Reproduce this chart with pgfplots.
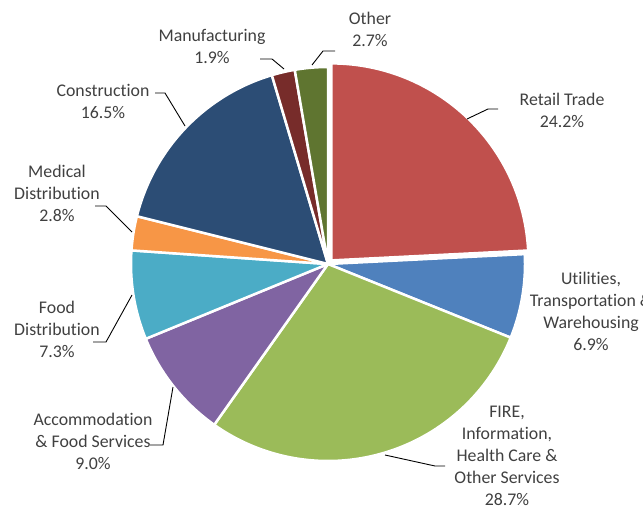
\documentclass[border=0pt]{standalone}
\usepackage{fontspec}
\setmainfont{Carlito}[Ligatures={NoCommon}]
\usepackage{pgfplots}
\pgfplotsset{compat=1.18}

\definecolor{retail}{HTML}{C0504D}
\definecolor{util}{HTML}{4F81BD}
\definecolor{fire}{HTML}{9BBB59}
\definecolor{accom}{HTML}{8064A2}
\definecolor{fooddist}{HTML}{4BACC6}
\definecolor{medical}{HTML}{F79646}
\definecolor{constr}{HTML}{2C4D75}
\definecolor{manuf}{HTML}{772C2A}
\definecolor{other}{HTML}{5F7530}
\definecolor{txt}{HTML}{404040}

% slice: centre x, centre y, cumulative start (%), share (%), colour
\newcommand\slice[5]{%
  \addplot[fill=#5, draw=white, line width=2.5bp, line join=round,
    domain={3.6*(#3)}:{3.6*(#3+#4)}, samples=90, variable=\t]
    ({#1+197*sin(\t)}, {#2-197*cos(\t)}) -- (axis cs:#1,#2) -- cycle;
}

\begin{document}
\begin{tikzpicture}[
    lbl/.style={font=\fontsize{17.8bp}{22bp}\selectfont, text=txt,
      align=center, inner sep=0pt},
    lead/.style={black, line width=0.9bp, mark=none},
  ]
\begin{axis}[
    hide axis, scale only axis,
    width=643bp, height=507bp,
    xmin=0, xmax=643, ymin=0, ymax=507,
    y dir=reverse, clip=false,
  ]
  % shares in percent, clockwise from the top
  \slice{331.4}{260.4}{0}{24.2}{retail}   % Retail Trade (pulled out)
  \slice{328}{264}{24.2}{6.9}{util}       % Utilities, Transportation & Warehousing
  \slice{328}{264}{31.1}{28.7}{fire}      % FIRE, Information, Health Care & Other
  \slice{328}{264}{59.8}{9.0}{accom}      % Accommodation & Food Services
  \slice{328}{264}{68.8}{7.3}{fooddist}   % Food Distribution
  \slice{328}{264}{76.1}{2.8}{medical}    % Medical Distribution
  \slice{328}{264}{78.9}{16.5}{constr}    % Construction
  \slice{328}{264}{95.4}{1.9}{manuf}      % Manufacturing
  \slice{328}{264}{97.3}{2.7}{other}      % Other

  % leader lines
  \addplot[lead] coordinates {(467,119) (488,109) (498,109)};
  \addplot[lead] coordinates {(385,455) (435,466) (445,466)};
  \addplot[lead] coordinates {(173,387) (163,445) (150,445)};
  \addplot[lead] coordinates {(132,295) (106,342) (93,342)};
  \addplot[lead] coordinates {(132,232) (106,206) (95,206)};
  \addplot[lead] coordinates {(185,126) (165,93) (155,93)};
  \addplot[lead] coordinates {(284,69) (272,59) (260,59)};
  \addplot[lead] coordinates {(312,65) (323,51) (335,51)};

  % labels
  \node[lbl] at (axis cs:562,110) {Retail Trade\\24.2\%};
  \node[lbl] at (axis cs:591,311) {Utilities,\\Transportation \&\\Warehousing\\6.9\%};
  \node[lbl] at (axis cs:507,456) {FIRE,\\Information,\\Health Care \&\\Other Services\\28.7\%};
  \node[lbl] at (axis cs:93,441) {Accommodation\\\& Food Services\\9.0\%};
  \node[lbl] at (axis cs:57,329) {Food\\Distribution\\7.3\%};
  \node[lbl] at (axis cs:57,193) {Medical\\Distribution\\2.8\%};
  \node[lbl] at (axis cs:103,101) {Construction\\16.5\%};
  \node[lbl] at (axis cs:212,46.5) {Manufacturing\\1.9\%};
  \node[lbl] at (axis cs:370,29) {Other\\2.7\%};
\end{axis}
\pgfresetboundingbox
\useasboundingbox (current axis.south west) rectangle (current axis.north east);
\end{tikzpicture}
\end{document}
